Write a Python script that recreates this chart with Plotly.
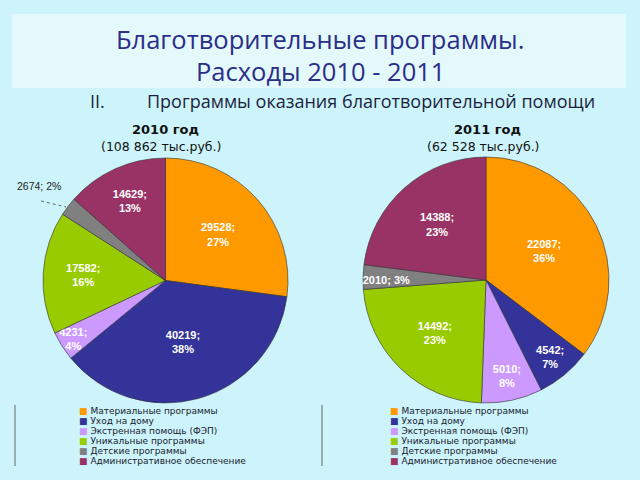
import plotly.graph_objects as go

categories = ["Материальные программы", "Уход на дому", "Экстренная помощь (ФЭП)",
              "Уникальные программы", "Детские программы", "Административное обеспечение"]
colors = ["#FF9900", "#333399", "#CC99FF", "#99CC00", "#808080", "#993366"]
values_2010 = [29528, 40219, 4231, 17582, 2674, 14629]
pct_2010 = ["27%", "38%", "4%", "16%", "2%", "13%"]
values_2011 = [22087, 4542, 5010, 14492, 2010, 14388]
pct_2011 = ["36%", "7%", "8%", "23%", "3%", "23%"]
titles = ["2010 год", "2011 год"]
totals = ["(108 862 тыс.руб.)", "(62 528 тыс.руб.)"]

W, H = 640, 480
def px(x): return x / W
def py(y): return 1 - y / H

fig = go.Figure()

def labels(vals, pcts, oneline_idx=()):
    out = []
    for i, (v, p) in enumerate(zip(vals, pcts)):
        sep = " " if i in oneline_idx else "<br>"
        out.append(f"{v};{sep}{p}")
    return out

text10 = labels(values_2010, pct_2010)
text10[4] = ""          # small slice labelled outside with a dashed leader
fig.add_trace(go.Pie(
    labels=categories, values=values_2010, sort=False, direction="clockwise", rotation=0,
    marker=dict(colors=colors, line=dict(color="#333333", width=0.6)),
    text=text10, textinfo="text",
    textposition="inside", insidetextorientation="horizontal",
    textfont=dict(family="Liberation Sans", size=11, color="white", weight="bold"),
    domain=dict(x=[px(43), px(288)], y=[py(403), py(158)]),
    showlegend=False, hoverinfo="label+value+percent",
))
fig.add_trace(go.Pie(
    labels=categories, values=values_2011, sort=False, direction="clockwise", rotation=0,
    marker=dict(colors=colors, line=dict(color="#333333", width=0.6)),
    text=labels(values_2011, pct_2011, oneline_idx=(4,)), textinfo="text",
    textposition="inside", insidetextorientation="horizontal",
    textfont=dict(family="Liberation Sans", size=11, color="white", weight="bold"),
    domain=dict(x=[px(363), px(609)], y=[py(403), py(157)]),
    showlegend=False, hoverinfo="label+value+percent",
))

shapes = [
    dict(type="rect", xref="paper", yref="paper", x0=px(12), x1=px(626), y0=py(88), y1=py(14),
         fillcolor="#e4f9fc", line=dict(width=0), layer="below"),
    dict(type="line", xref="paper", yref="paper", x0=px(15), x1=px(15), y0=py(405), y1=py(466),
         line=dict(color="#666666", width=1)),
    dict(type="line", xref="paper", yref="paper", x0=px(322), x1=px(322), y0=py(405), y1=py(466),
         line=dict(color="#666666", width=1)),
    # dashed leader for the outside label
    dict(type="line", xref="paper", yref="paper", x0=px(41), x1=px(66), y0=py(201), y1=py(207),
         line=dict(color="#444444", width=0.8, dash="3px,3px")),
]

ann = [
    dict(text="Благотворительные программы.", x=0.5, y=py(39), font=dict(family="Open Sans", size=25.5, color="#2b2e88")),
    dict(text="Расходы 2010 - 2011", x=0.5, y=py(71), font=dict(family="Open Sans", size=25.5, color="#2b2e88")),
    dict(text="II.", x=px(88), y=py(101), xanchor="left", font=dict(family="Open Sans", size=18, color="#1e1e40")),
    dict(text="Программы оказания благотворительной помощи", x=px(145), y=py(101), xanchor="left",
         font=dict(family="Open Sans", size=18, color="#1e1e40")),
    dict(text=f"{values_2010[4]}; {pct_2010[4]}", x=px(39), y=py(186),
         font=dict(family="Liberation Sans", size=10.5, color="#222222")),
]
for cx, t, tot in [(165, titles[0], totals[0]), (487, titles[1], totals[1])]:
    ann.append(dict(text=f"<b>{t}</b>", x=px(cx), y=py(129), font=dict(family="DejaVu Sans", size=13, color="#111111")))
    ann.append(dict(text=tot, x=px(cx - 4), y=py(146), font=dict(family="DejaVu Sans", size=12.5, color="#111111")))

for lx in (77, 388):
    for i, (c, cat) in enumerate(zip(colors, categories)):
        ann.append(dict(text=f"<span style='color:{c}'>■</span> {cat}", x=px(lx), y=py(411 + 10 * i),
                        xanchor="left", font=dict(family="DejaVu Sans", size=9, color="#1a1a30")))

for a in ann:
    a.setdefault("xanchor", "center")
    a["yanchor"] = "middle"
    a["xref"] = "paper"
    a["yref"] = "paper"
    a["showarrow"] = False

fig.update_layout(
    width=W, height=H, margin=dict(l=0, r=0, t=0, b=0),
    paper_bgcolor="#ccf4fa", plot_bgcolor="#ccf4fa",
    shapes=shapes, annotations=ann,
    uniformtext=dict(minsize=11, mode="show"),
)
fig.write_html("out.html")
